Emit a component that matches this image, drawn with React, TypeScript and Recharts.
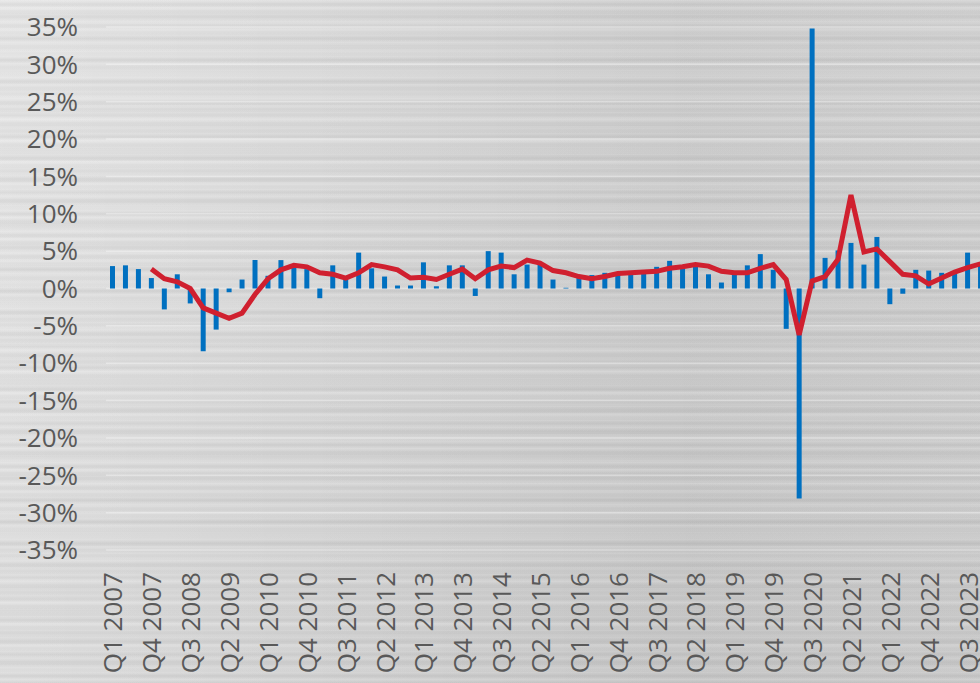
import { ComposedChart, Bar, Line, XAxis, YAxis, CartesianGrid } from "recharts"

const quarters = [
  "Q1 2007", "Q2 2007", "Q3 2007", "Q4 2007",
  "Q1 2008", "Q2 2008", "Q3 2008", "Q4 2008",
  "Q1 2009", "Q2 2009", "Q3 2009", "Q4 2009",
  "Q1 2010", "Q2 2010", "Q3 2010", "Q4 2010",
  "Q1 2011", "Q2 2011", "Q3 2011", "Q4 2011",
  "Q1 2012", "Q2 2012", "Q3 2012", "Q4 2012",
  "Q1 2013", "Q2 2013", "Q3 2013", "Q4 2013",
  "Q1 2014", "Q2 2014", "Q3 2014", "Q4 2014",
  "Q1 2015", "Q2 2015", "Q3 2015", "Q4 2015",
  "Q1 2016", "Q2 2016", "Q3 2016", "Q4 2016",
  "Q1 2017", "Q2 2017", "Q3 2017", "Q4 2017",
  "Q1 2018", "Q2 2018", "Q3 2018", "Q4 2018",
  "Q1 2019", "Q2 2019", "Q3 2019", "Q4 2019",
  "Q1 2020", "Q2 2020", "Q3 2020", "Q4 2020",
  "Q1 2021", "Q2 2021", "Q3 2021", "Q4 2021",
  "Q1 2022", "Q2 2022", "Q3 2022", "Q4 2022",
  "Q1 2023", "Q2 2023", "Q3 2023", "Q4 2023",
]

// quarterly growth, annualised (bars)
const quarterlyGrowth = [
  3.0, 3.1, 2.6, 1.4,
  -2.8, 1.9, -2.0, -8.4,
  -5.5, -0.5, 1.2, 3.8,
  1.7, 3.8, 3.1, 2.6,
  -1.3, 3.1, 1.4, 4.8,
  2.7, 1.6, 0.4, 0.4,
  3.5, 0.3, 3.1, 3.1,
  -1.0, 5.0, 4.8, 1.9,
  3.2, 3.2, 1.2, 0.1,
  1.4, 1.8, 2.1, 1.9,
  1.9, 2.3, 2.9, 3.7,
  2.8, 3.3, 1.9, 0.8,
  2.2, 3.1, 4.6, 2.5,
  -5.4, -28.1, 34.8, 4.1,
  5.1, 6.1, 3.2, 6.9,
  -2.1, -0.7, 2.5, 2.4,
  2.1, 2.3, 4.8, 3.3,
]

// year-over-year growth (line)
const yearlyGrowth = [
  null, null, null, 2.6,
  1.3, 0.9, 0.0, -2.6,
  -3.3, -4.0, -3.3, -0.8,
  1.3, 2.5, 3.1, 2.9,
  2.1, 1.9, 1.4, 2.1,
  3.2, 2.9, 2.5, 1.4,
  1.5, 1.2, 1.9, 2.6,
  1.3, 2.5, 3.0, 2.8,
  3.8, 3.4, 2.4, 2.1,
  1.6, 1.3, 1.6, 2.0,
  2.1, 2.2, 2.3, 2.7,
  2.9, 3.2, 3.0, 2.3,
  2.1, 2.1, 2.7, 3.2,
  1.2, -6.2, 1.0, 1.6,
  3.9, 12.5, 4.9, 5.3,
  3.6, 1.9, 1.7, 0.6,
  1.4, 2.2, 2.8, 3.3,
]

const percentTicks = [-35, -30, -25, -20, -15, -10, -5, 0, 5, 10, 15, 20, 25, 30, 35]

const chartData = quarters.map((q, i) => ({
  quarter: q,
  qoq: quarterlyGrowth[i],
  yoy: yearlyGrowth[i],
}))

const FONT = "'Open Sans', 'Liberation Sans', sans-serif"
const LABEL = "#595959"

// brushed-metal backdrop: a few uneven horizontal streak layers over a soft diagonal shade
const brushed = [
  "repeating-linear-gradient(180deg, rgba(255,255,255,0.10) 0px, rgba(255,255,255,0) 2px, rgba(0,0,0,0.025) 4px, rgba(255,255,255,0) 7px)",
  "repeating-linear-gradient(180deg, rgba(0,0,0,0) 0px, rgba(0,0,0,0.03) 5px, rgba(255,255,255,0.08) 8px, rgba(0,0,0,0) 11px)",
  "repeating-linear-gradient(180deg, rgba(255,255,255,0.06) 0px, rgba(0,0,0,0) 9px, rgba(0,0,0,0.02) 17px, rgba(255,255,255,0) 23px)",
  "linear-gradient(90deg, rgba(255,255,255,0.12) 0%, rgba(255,255,255,0) 30%, rgba(0,0,0,0.03) 70%, rgba(255,255,255,0.05) 100%)",
  "linear-gradient(125deg, #e4e4e4 0%, #d8d8d8 40%, #c8c8c8 100%)",
].join(", ")

function QuarterTick({ x, y, payload }: any) {
  return (
    <text
      x={x}
      y={y}
      transform={`rotate(-90, ${x}, ${y})`}
      textAnchor="end"
      dominantBaseline="central"
      fill={LABEL}
      fontSize={26}
      fontFamily={FONT}
    >
      {payload.value}
    </text>
  )
}

export default function App() {
  return (
    <div
      style={{
        position: "fixed",
        top: 0,
        left: 0,
        width: 980,
        height: 683,
        overflow: "hidden",
        background: brushed,
      }}
    >
      <ComposedChart
        width={987}
        height={683}
        data={chartData}
        margin={{ top: 27, right: 0, bottom: 0, left: 0 }}
      >
        <CartesianGrid vertical={false} stroke="#ffffff" strokeOpacity={0.35} strokeWidth={1.5} />
        <XAxis
          dataKey="quarter"
          interval={2}
          height={133}
          axisLine={false}
          tickLine={false}
          tickMargin={16}
          tick={<QuarterTick />}
        />
        <YAxis
          domain={[-35, 35]}
          ticks={percentTicks}
          width={106}
          axisLine={false}
          tickLine={false}
          tickMargin={22}
          tickFormatter={(v: number) => `${v}%`}
          tick={{ fill: LABEL, fontSize: 26, fontFamily: FONT }}
        />
        <Bar dataKey="qoq" fill="#0070C0" barSize={5} isAnimationActive={false} />
        <Line
          type="linear"
          dataKey="yoy"
          stroke="#D0202F"
          strokeWidth={5}
          dot={false}
          activeDot={false}
          connectNulls
          isAnimationActive={false}
        />
      </ComposedChart>
    </div>
  )
}
